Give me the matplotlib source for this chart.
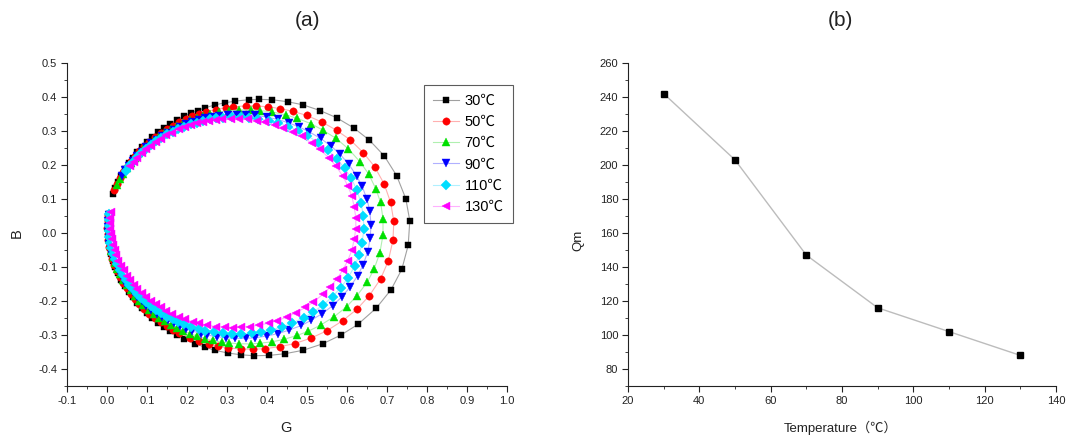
import matplotlib
matplotlib.use("Agg")
import matplotlib.pyplot as plt
from matplotlib.ticker import MultipleLocator, FormatStrFormatter

plt.rcParams['font.family'] = ['Liberation Sans', 'Noto Sans CJK SC', 'DejaVu Sans']
plt.rcParams['axes.unicode_minus'] = False

# ---------------- data: admittance circles (G, B) ----------------
labels = ["30℃", "50℃", "70℃", "90℃", "110℃", "130℃"]

g30 = [0.016,0.021,0.028,0.036,0.044,0.054,0.064,0.075,0.087,0.100,0.113,0.128,0.143,0.158,0.175,0.192,
       0.209,0.227,0.245,0.270,0.295,0.321,0.354,0.380,0.413,0.452,0.490,0.533,0.574,0.617,0.656,0.693,0.724,0.747,0.757,0.753,
       0.737,0.710,0.673,0.627,0.585,0.539,0.490,0.445,0.406,0.367,0.334,0.302,0.270,0.245,0.221,
       0.192,0.175,0.158,0.143,0.128,0.113,0.100,0.087,0.075,0.064,0.054,0.044,0.036,0.028,0.021,0.016,0.011,0.008,0.005,0.004,0.003,0.004,0.005]
b30 = [0.114,0.133,0.151,0.169,0.187,0.205,0.221,0.238,0.253,0.268,0.283,0.296,0.309,0.321,0.332,0.343,
       0.352,0.360,0.368,0.377,0.383,0.388,0.392,0.393,0.392,0.386,0.377,0.360,0.339,0.309,0.273,0.227,0.169,0.101,0.036,-0.036,
       -0.107,-0.167,-0.221,-0.269,-0.300,-0.326,-0.345,-0.355,-0.360,-0.361,-0.358,-0.353,-0.345,-0.336,-0.326,
       -0.311,-0.300,-0.289,-0.277,-0.264,-0.251,-0.236,-0.221,-0.206,-0.189,-0.173,-0.155,-0.137,-0.119,-0.101,-0.082,-0.062,-0.043,-0.023,-0.004,0.016,0.036,0.055]

g50 = [0.018,0.025,0.032,0.040,0.049,0.059,0.069,0.081,0.093,0.106,0.120,0.134,0.149,0.164,0.180,
       0.197,0.213,0.231,0.248,0.272,0.297,0.315,0.347,0.372,0.403,0.433,0.464,0.499,0.538,0.574,0.608,0.641,0.669,0.693,0.709,
       0.717,0.715,0.703,0.684,0.656,0.625,0.589,0.549,0.510,0.470,0.433,0.396,0.365,0.334,0.303,0.278,0.254,0.231,0.208,
       0.180,0.164,0.149,0.134,0.120,0.106,0.093,0.081,0.069,0.059,0.049,0.040,0.032,0.025,0.018,0.013,0.009,0.005,0.003,0.002,0.001,0.002,0.003]
b50 = [0.127,0.144,0.162,0.179,0.195,0.211,0.226,0.241,0.256,0.269,0.282,0.294,0.306,0.316,0.326,
       0.335,0.343,0.350,0.357,0.363,0.369,0.371,0.374,0.374,0.371,0.366,0.358,0.346,0.326,0.302,0.274,0.236,0.195,0.144,0.090,
       0.035,-0.021,-0.083,-0.135,-0.184,-0.224,-0.258,-0.288,-0.309,-0.325,-0.334,-0.340,-0.342,-0.341,-0.338,-0.333,-0.326,-0.318,-0.309,
       -0.294,-0.284,-0.274,-0.262,-0.250,-0.237,-0.224,-0.209,-0.194,-0.179,-0.163,-0.147,-0.130,-0.112,-0.095,-0.077,-0.058,-0.040,-0.021,-0.003,0.016,0.035,0.053]

g70 = [0.026,0.033,0.041,0.049,0.059,0.069,0.080,0.091,0.104,0.117,0.131,0.145,0.160,0.175,
       0.191,0.207,0.224,0.241,0.258,0.281,0.305,0.329,0.359,0.383,0.413,0.448,0.476,0.509,0.539,0.573,0.603,0.632,0.654,0.672,
       0.684,0.690,0.690,0.682,0.668,0.651,0.625,0.599,0.568,0.534,0.503,0.476,0.442,0.413,0.383,0.359,0.329,0.305,0.287,0.264,
       0.246,0.224,0.207,0.191,
       0.175,0.160,0.145,0.131,0.117,0.104,0.091,0.080,0.069,0.059,0.049,0.041,0.033,0.026,0.020,0.015,0.011,0.007,0.005,0.004,0.003,0.004,0.005]
b70 = [0.141,0.158,0.174,0.190,0.205,0.220,0.235,0.248,0.261,0.274,0.285,0.296,0.307,0.316,
       0.325,0.332,0.339,0.345,0.350,0.356,0.359,0.362,0.362,0.360,0.356,0.347,0.337,0.322,0.303,0.278,0.248,0.210,0.174,0.130,
       0.090,0.042,-0.006,-0.059,-0.105,-0.144,-0.184,-0.217,-0.246,-0.271,-0.289,-0.301,-0.313,-0.320,-0.324,-0.326,-0.326,-0.323,-0.321,-0.316,
       -0.311,-0.303,-0.296,-0.289,
       -0.280,-0.271,-0.260,-0.249,-0.238,-0.225,-0.212,-0.199,-0.184,-0.169,-0.154,-0.138,-0.122,-0.105,-0.088,-0.071,-0.054,-0.036,-0.018,0.000,0.018,0.036,0.054]

g90 = [0.038,0.046,0.055,0.065,0.075,0.087,0.098,0.111,0.124,0.138,0.152,0.167,
       0.182,0.197,0.213,0.229,0.246,0.263,0.280,0.302,0.325,0.348,0.371,0.399,0.427,0.454,0.480,0.505,0.534,0.560,0.583,0.604,
       0.624,0.638,0.650,0.657,0.660,0.658,0.652,0.640,0.627,0.607,0.587,0.564,0.538,0.510,0.486,0.454,0.427,0.399,0.371,0.348,
       0.320,0.297,0.274,0.251,0.235,0.213,0.197,0.182,
       0.167,0.152,0.138,0.124,0.111,0.098,0.087,0.075,0.065,0.055,0.046,0.038,0.031,0.024,0.018,0.013,0.009,0.006,0.004,0.003,0.002,0.003,0.004]
b90 = [0.168,0.184,0.198,0.212,0.226,0.239,0.252,0.264,0.275,0.285,0.295,0.304,
       0.312,0.320,0.326,0.332,0.337,0.341,0.344,0.347,0.348,0.348,0.346,0.341,0.334,0.324,0.312,0.298,0.278,0.256,0.231,0.203,
       0.168,0.137,0.099,0.065,0.025,-0.015,-0.055,-0.094,-0.125,-0.160,-0.188,-0.214,-0.237,-0.257,-0.272,-0.286,-0.296,-0.303,-0.308,-0.310,
       -0.310,-0.308,-0.305,-0.300,-0.296,-0.288,-0.282,-0.274,
       -0.266,-0.257,-0.247,-0.237,-0.226,-0.214,-0.201,-0.188,-0.174,-0.160,-0.146,-0.130,-0.115,-0.099,-0.083,-0.066,-0.049,-0.033,-0.015,0.002,0.019,0.036,0.053]

g110 = [0.047,0.056,0.065,0.075,0.086,0.097,0.110,0.122,0.136,0.149,0.164,
        0.178,0.193,0.209,0.224,0.240,0.257,0.273,0.290,0.312,0.334,0.356,0.378,0.406,0.427,0.453,0.478,0.501,0.528,0.552,0.574,
        0.594,0.610,0.625,0.635,0.641,0.642,0.638,0.630,0.619,0.602,0.584,0.564,0.541,0.515,0.492,0.463,0.437,0.411,0.384,0.362,
        0.334,0.312,0.290,0.268,0.246,0.230,0.209,0.193,0.178,
        0.164,0.149,0.136,0.122,0.110,0.097,0.086,0.075,0.065,0.056,0.047,0.039,0.032,0.025,0.020,0.015,0.011,0.008,0.006,0.004,0.004,0.004,0.006]
b110 = [0.182,0.196,0.210,0.223,0.235,0.248,0.259,0.270,0.280,0.290,0.298,
        0.306,0.313,0.320,0.325,0.330,0.334,0.337,0.339,0.341,0.341,0.339,0.336,0.330,0.324,0.313,0.301,0.286,0.266,0.244,0.218,
        0.191,0.162,0.126,0.088,0.050,0.011,-0.028,-0.066,-0.098,-0.133,-0.161,-0.187,-0.211,-0.233,-0.249,-0.265,-0.276,-0.285,-0.291,-0.295,
        -0.297,-0.297,-0.295,-0.292,-0.288,-0.283,-0.276,-0.269,-0.262,
        -0.254,-0.246,-0.236,-0.226,-0.215,-0.204,-0.191,-0.179,-0.166,-0.152,-0.138,-0.123,-0.108,-0.092,-0.077,-0.061,-0.044,-0.028,-0.011,0.005,0.022,0.039,0.055]

g130 = [0.058,0.067,0.076,0.087,0.098,0.110,0.122,0.135,0.148,0.162,
        0.180,0.195,0.210,0.225,0.241,0.256,0.272,0.288,0.310,0.331,0.352,0.374,0.395,0.420,0.440,0.464,0.487,0.512,0.532,0.554,
        0.573,0.589,0.602,0.612,0.618,0.622,0.622,0.618,0.612,0.602,0.589,0.575,0.557,0.540,0.516,0.496,0.473,0.450,0.425,0.405,
        0.379,0.358,0.336,0.315,0.294,0.272,0.251,0.230,0.215,0.195,0.180,
        0.162,0.148,0.135,0.122,0.110,0.098,0.087,0.076,0.067,0.058,0.049,0.042,0.035,0.028,0.023,0.019,0.015,0.012,0.010,0.008,0.008,0.008,0.010]
b130 = [0.196,0.210,0.222,0.234,0.246,0.257,0.268,0.277,0.287,0.295,
        0.305,0.312,0.318,0.323,0.327,0.330,0.333,0.335,0.336,0.336,0.334,0.330,0.326,0.318,0.309,0.298,0.284,0.264,0.246,0.222,
        0.196,0.168,0.139,0.109,0.077,0.045,0.013,-0.019,-0.051,-0.081,-0.110,-0.134,-0.160,-0.180,-0.203,-0.219,-0.234,-0.247,-0.258,-0.265,
        -0.271,-0.275,-0.277,-0.278,-0.277,-0.275,-0.271,-0.266,-0.261,-0.254,-0.247,
        -0.237,-0.229,-0.219,-0.210,-0.199,-0.188,-0.176,-0.164,-0.152,-0.138,-0.125,-0.110,-0.096,-0.081,-0.066,-0.051,-0.035,-0.019,-0.003,0.013,0.029,0.045,0.061]

# ---------------- data: Qm vs temperature ----------------
temperature = [30, 50, 70, 90, 110, 130]
qm = [242, 203, 147, 116, 102, 88]

# ---------------- styling ----------------
series_g = [g30, g50, g70, g90, g110, g130]
series_b = [b30, b50, b70, b90, b110, b130]
colors = ['#000000', '#ff0000', '#00e000', '#0000ff', '#00ddff', '#ff00ff']
line_colors = ['#a0a0a0', '#ffb0b0', '#b0f0b0', '#b0b0ff', '#b0f0ff', '#ffb0ff']
markers = ['s', 'o', '^', 'v', 'D', '<']
msizes = [4.8, 5.3, 6.0, 6.0, 5.0, 6.0]

fig = plt.figure(figsize=(10.7, 4.37), dpi=100)
ax1 = fig.add_axes([67/1070, 51/437, 440/1070, 323/437])
ax2 = fig.add_axes([628/1070, 51/437, 428/1070, 323/437])

for g, b, c, lc, m, ms, lab in zip(series_g, series_b, colors, line_colors, markers, msizes, labels):
    n = min(len(g), len(b))
    ax1.plot(g[:n], b[:n], color=lc, lw=0.8, marker=m, markersize=ms,
             markerfacecolor=c, markeredgecolor=c, markeredgewidth=0.3, label=lab, clip_on=False)

ax1.set_xlim(-0.1, 1.0)
ax1.set_ylim(-0.45, 0.5)
ax1.xaxis.set_major_locator(MultipleLocator(0.1))
ax1.xaxis.set_minor_locator(MultipleLocator(0.05))
ax1.yaxis.set_major_locator(MultipleLocator(0.1))
ax1.yaxis.set_minor_locator(MultipleLocator(0.05))
ax1.xaxis.set_major_formatter(FormatStrFormatter('%.1f'))
ax1.yaxis.set_major_formatter(FormatStrFormatter('%.1f'))

leg = ax1.legend(loc='upper left', bbox_to_anchor=(0.811, 0.932), borderaxespad=0,
                 fontsize=10.5, frameon=True, fancybox=False, edgecolor='#333333',
                 handlelength=1.8, handletextpad=0.4, labelspacing=0.5, borderpad=0.6)
leg.get_frame().set_linewidth(0.8)

ax2.plot(temperature, qm, color='#bcbcbc', lw=1.0, marker='s', markersize=4.5,
         markerfacecolor='black', markeredgecolor='black', clip_on=False)
ax2.set_xlim(20, 140)
ax2.set_ylim(70, 260)
ax2.xaxis.set_major_locator(MultipleLocator(20))
ax2.xaxis.set_minor_locator(MultipleLocator(10))
ax2.yaxis.set_major_locator(MultipleLocator(20))
ax2.yaxis.set_minor_locator(MultipleLocator(10))

for ax in (ax1, ax2):
    for side in ('top', 'right'):
        ax.spines[side].set_visible(False)
    for side in ('left', 'bottom'):
        ax.spines[side].set_linewidth(0.8)
        ax.spines[side].set_color('#222222')
    ax.tick_params(which='major', direction='out', length=4, width=0.8, labelsize=8,
                   colors='#222222', pad=3)
    ax.tick_params(which='minor', direction='out', length=2, width=0.6, colors='#222222')

fig.text(0.287, 0.954, '(a)', ha='center', va='center', fontsize=15, color='#222222')
fig.text(0.785, 0.954, '(b)', ha='center', va='center', fontsize=15, color='#222222')
fig.text(0.267, 0.02, 'G', ha='center', va='center', fontsize=10.5, color='#222222')
fig.text(0.016, 0.467, 'B', ha='center', va='center', fontsize=10.5, color='#222222', rotation=90)
fig.text(0.541, 0.451, 'Qm', ha='center', va='center', fontsize=9.5, color='#222222', rotation=90)
fig.text(0.786, 0.02, 'Temperature（℃）', ha='center', va='center', fontsize=9.5, color='#222222')

fig.savefig('out.png', dpi=100, facecolor='white')
